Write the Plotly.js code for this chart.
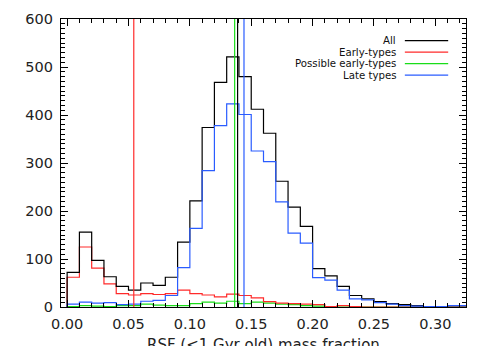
<!DOCTYPE html>
<html>
<head>
<meta charset="utf-8">
<script src="https://cdn.plot.ly/plotly-3.0.1.min.js"></script>
<style>
html,body{margin:0;padding:0;background:#fff;}
#chart{width:485px;height:346px;}
</style>
</head>
<body>
<div id="chart"></div>
<script>
// Histogram bins: left edges start at 0.00, width 0.01
var binStart = 0.0;
var binWidth = 0.01;
var seriesNames = ["All", "Early-types", "Possible early-types", "Late types"];
var allCounts   = [72,156,97,63,43,35,50,45,62,135,221,374,468,521,480,412,362,262,208,168,80,65,43,24,17,11,7,5,3,1,1,3,3];
var earlyCounts = [62,125,81,48,28,25,28,26,28,35,28,25,21,27,24,19,11,8,7,6,5,1,3,1,0,0,0,0,0,0,0,0,0];
var possCounts  = [1,3,2,1,3,3,6,4,3,3,7,10,8,12,7,10,8,6,5,3,2,1,0,0,0,0,0,0,0,0,0,0,0];
var lateCounts  = [6,10,8,9,5,6,12,14,24,82,164,284,378,423,401,325,303,219,154,133,61,56,35,17,15,9,6,3,2,1,1,3,3];
var medians     = [0.0543, 0.1365, 0.1389, 0.1441]; // Early, Possible, All, Late
var medianColors= ["#ff2a2a", "#19dd19", "#000000", "#2a5cff"];
var colors      = ["#000000", "#ff2a2a", "#19dd19", "#2a5cff"];
var xTickVals   = [0.00, 0.05, 0.10, 0.15, 0.20, 0.25, 0.30];
var xTickText   = ["0.00", "0.05", "0.10", "0.15", "0.20", "0.25", "0.30"];
var yTickVals   = [0, 100, 200, 300, 400, 500, 600];
var xTitle      = "RSF (<1 Gyr old) mass fraction";

function stepTrace(counts, color, name){
  var x = [binStart], y = [0];
  for (var i = 0; i < counts.length; i++){
    x.push(binStart + i*binWidth); y.push(counts[i]);
  }
  x.push(binStart + counts.length*binWidth); y.push(counts[counts.length-1]);
  return {x:x, y:y, type:'scatter', mode:'lines', name:name,
          line:{shape:'hv', color:color, width:1.2}, showlegend:false, hoverinfo:'skip'};
}

var traces = [
  stepTrace(possCounts, colors[2], seriesNames[2]),
  stepTrace(earlyCounts, colors[1], seriesNames[1]),
  stepTrace(allCounts, colors[0], seriesNames[0]),
  stepTrace(lateCounts, colors[3], seriesNames[3])
];

var shapes = [];
for (var k = 0; k < medians.length; k++){
  shapes.push({type:'line', xref:'x', yref:'paper', x0:medians[k], x1:medians[k], y0:0, y1:1,
               line:{color:medianColors[k], width:1.2}});
}
// legend (text right-aligned, line samples on the right)
var annotations = [];
var legTop = 0.925, legStep = 0.04;
for (var j = 0; j < seriesNames.length; j++){
  var yy = legTop - j*legStep;
  annotations.push({xref:'paper', yref:'paper', x:0.831, y:yy, xanchor:'right', yanchor:'middle',
                    text:seriesNames[j], showarrow:false,
                    font:{family:'DejaVu Sans', size:10.2, color:'#111'}});
  shapes.push({type:'line', xref:'paper', yref:'paper', x0:0.849, x1:0.956, y0:yy, y1:yy,
               line:{color:colors[j], width:1.2}});
}
// x-axis title (partly cut off at the bottom edge, as in the reference)
annotations.push({xref:'paper', yref:'paper', x:0.5, y:-0.098, xanchor:'center', yanchor:'top',
                  text:xTitle, showarrow:false, borderpad:0,
                  font:{family:'DejaVu Sans', size:15, color:'#222'}});

var axisCommon = {
  showgrid:false, zeroline:false, showline:true, linecolor:'#000', linewidth:1.2,
  mirror:'allticks', ticks:'inside', ticklen:7, tickwidth:1, tickcolor:'#000',
  tickfont:{family:'DejaVu Sans', size:14.5, color:'#222'}
};

var layout = {
  width:485, height:346,
  margin:{l:61, r:19, t:19, b:39, pad:0},
  paper_bgcolor:'#fff', plot_bgcolor:'#fff',
  showlegend:false,
  xaxis: Object.assign({}, axisCommon, {
    range:[-0.005, 0.325], tickmode:'array', tickvals:xTickVals, ticktext:xTickText,
    minor:{dtick:0.01, tick0:0, ticks:'inside', ticklen:4, tickcolor:'#000', tickwidth:1},
    ticklabelstandoff:3
  }),
  yaxis: Object.assign({}, axisCommon, {
    range:[0, 600], tickmode:'array', tickvals:yTickVals,
    minor:{dtick:10, tick0:0, ticks:'inside', ticklen:4, tickcolor:'#000', tickwidth:1},
    ticklabelstandoff:4
  }),
  shapes:shapes,
  annotations:annotations
};

Plotly.newPlot('chart', traces, layout, {staticPlot:true, displayModeBar:false});
</script>
</body>
</html>
